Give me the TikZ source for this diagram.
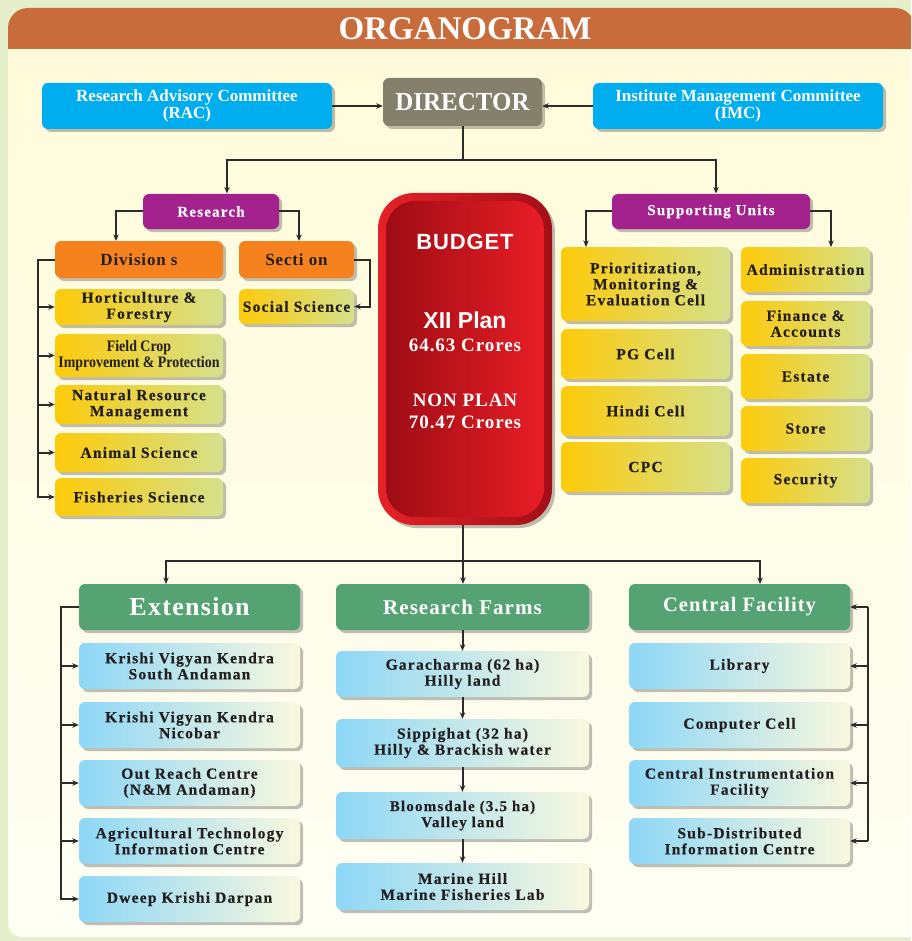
\documentclass[tikz,border=0pt]{standalone}
\usepackage{fontspec}
\setmainfont{Liberation Serif}
\newfontfamily\wsf[LetterSpace=8, BoldFeatures={FakeBold=0.4}]{Liberation Serif}
\newfontfamily\msf[LetterSpace=5]{Liberation Serif}
\newfontfamily\csf[FakeStretch=0.87]{Liberation Serif}
\newfontfamily\dsf[FakeStretch=0.96]{Liberation Serif}
\newfontfamily\ssf[LetterSpace=4]{Liberation Sans}
\newfontfamily\psf{Liberation Sans}
\usetikzlibrary{shadows,arrows.meta}
\definecolor{outerbg}{HTML}{E6EFCC}
\definecolor{paneltop}{HTML}{FFFBD9}
\definecolor{panelbot}{HTML}{FEFEF4}
\definecolor{hdr}{HTML}{C96C3B}
\definecolor{cyanbox}{HTML}{00AEEF}
\definecolor{dirgray}{HTML}{85806C}
\definecolor{purp}{HTML}{A3228D}
\definecolor{orng}{HTML}{F5821F}
\definecolor{yelL}{HTML}{FDCB0A}
\definecolor{yelR}{HTML}{D5E08C}
\definecolor{grn}{HTML}{55A273}
\definecolor{bluL}{HTML}{8DD7F7}
\definecolor{bluR}{HTML}{F9F8DE}
\definecolor{redA}{HTML}{E62128}
\definecolor{redB}{HTML}{A20F17}
\definecolor{redC}{HTML}{9E0C14}
\definecolor{redD}{HTML}{E81E26}
\definecolor{ink}{HTML}{231F20}
\definecolor{linec}{HTML}{2B2B2B}
\tikzset{
  shad/.style={drop shadow={shadow xshift=3pt, shadow yshift=-3pt, opacity=0.25, fill=black}},
  basebox/.style={shad, rounded corners=6pt, inner sep=0pt, align=center},
  topbox/.style={basebox, fill=cyanbox, text=white, minimum width=290pt, minimum height=46pt,
     font=\fontsize{17}{17}\selectfont\bfseries},
  dirbox/.style={basebox, fill=dirgray, text=white, minimum width=159pt, minimum height=48pt,
     font=\fontsize{26}{26}\selectfont\dsf\bfseries},
  purpbox/.style={basebox, fill=purp, text=white, minimum height=35pt,
     font=\fontsize{15}{15}\selectfont\wsf\bfseries},
  orbox/.style={basebox, fill=orng, text=ink, minimum height=37pt,
     font=\fontsize{17}{17}\selectfont\msf\bfseries},
  yelbox/.style={basebox, left color=yelL, right color=yelR, text=ink,
     font=\fontsize{15.5}{16}\selectfont\wsf\bfseries},
  grnbox/.style={basebox, fill=grn, text=white, minimum height=46pt},
  blubox/.style={basebox, left color=bluL, right color=bluR, text=ink,
     font=\fontsize{15.5}{16}\selectfont\wsf\bfseries},
  conn/.style={draw=linec, line width=2pt},
  arr/.style={conn, -{Stealth[length=6.5pt,width=5.5pt]}},
  btext/.style={text=white, inner sep=0pt}
}
\begin{document}
\begin{tikzpicture}[x=1pt,y=-1pt]
\useasboundingbox (0,0) rectangle (911,941);
\clip (0,0) rectangle (911,941);
% background
\fill[outerbg] (0,0) rectangle (911,941);
\shade[top color=paneltop, bottom color=panelbot, rounded corners=14pt] (8,30) rectangle (960,937);
\fill[hdr] (8,49) [rounded corners=20pt] -- (8,8) -- (915,8) [sharp corners] -- (915,49) -- cycle;
\node[text=white, font=\fontsize{33}{33}\selectfont\bfseries, inner sep=0pt] (title) at (465,29) {ORGANOGRAM};

% top row
\node[topbox] (rac) at (187,106) {Research Advisory Committee\\(RAC)};
\node[dirbox] (dir) at (462.5,102) {DIRECTOR};
\node[topbox] (imc) at (738,106) {Institute Management Committee\\(IMC)};
\draw[arr] (rac.east) -- (dir.west |- rac.east);
\draw[arr] (imc.west) -- (dir.east |- imc.west);

% research / supporting
\node[purpbox, minimum width=136pt] (res) at (211,211.5) {Research};
\node[purpbox, minimum width=198pt] (sup) at (711,211.5) {Supporting Units};
\coordinate (dj) at (462.5,160);
\draw[conn] (dir.south) -- (dj);
\draw[arr] (dj) -| (227,193.5);
\draw[arr] (dj) -| (716,193.5);

% research subtree
\node[orbox, minimum width=168pt] (div) at (139,259.5) {Division s};
\node[orbox, minimum width=115pt] (sec) at (296.5,259.5) {Secti on};
\node[yelbox, minimum width=115pt, minimum height=35pt] (soc) at (296.5,306.5) {Social Science};
\node[yelbox, minimum width=168pt, minimum height=36pt] (hort) at (139,307) {Horticulture \&\\Forestry};
\node[yelbox, minimum width=168pt, minimum height=43pt, font=\fontsize{16}{16}\selectfont\csf\bfseries] (field) at (139,355.5) {Field Crop\\Improvement \& Protection};
\node[yelbox, minimum width=168pt, minimum height=39pt] (nrm) at (139,404.5) {Natural Resource\\Management};
\node[yelbox, minimum width=168pt, minimum height=39pt] (anim) at (139,452.5) {Animal Science};
\node[yelbox, minimum width=168pt, minimum height=38pt] (fish) at (139,497) {Fisheries Science};

\draw[arr] (res.west) -| (116,241);
\draw[arr] (res.east) -| (299,241);
\coordinate (secr) at (370,259.5);
\draw[arr] (sec.east) -- (secr) |- (soc.east);
\coordinate (divl) at (38,259.5);
\draw[arr] (div.west) -- (divl) |- (fish.west);
\foreach \n in {hort,field,nrm,anim}{\draw[arr] (divl |- \n.west) -- (\n.west);}

% budget
\node[shad, rounded corners=36pt, left color=redA, right color=redB, minimum width=174pt, minimum height=332pt, inner sep=0pt] (budget) at (465,359) {};
\node[rounded corners=29pt, left color=redC, right color=redD, minimum width=158pt, minimum height=316pt, inner sep=0pt] (budgetin) at (budget.center) {};
\node[btext, font=\fontsize{22}{22}\selectfont\ssf\bfseries] (bt1) at (465,242) {BUDGET};
\node[btext, font=\fontsize{23}{23}\selectfont\psf\bfseries] (bt2) at (465,320) {XII Plan};
\node[btext, font=\fontsize{19}{19}\selectfont\msf\bfseries] (bt3) at (465,345) {64.63 Crores};
\node[btext, font=\fontsize{19}{19}\selectfont\msf\bfseries] (bt4) at (465,400) {NON PLAN};
\node[btext, font=\fontsize{19}{19}\selectfont\msf\bfseries] (bt5) at (465,422) {70.47 Crores};

% supporting units subtree
\node[yelbox, minimum width=169pt, minimum height=74pt] (pmec) at (645.5,284) {Prioritization,\\Monitoring \&\\Evaluation Cell};
\node[yelbox, minimum width=169pt, minimum height=50pt] (pg) at (645.5,354) {PG Cell};
\node[yelbox, minimum width=169pt, minimum height=50pt] (hindi) at (645.5,411) {Hindi Cell};
\node[yelbox, minimum width=169pt, minimum height=50pt] (cpc) at (645.5,467) {CPC};
\node[yelbox, minimum width=129pt, minimum height=45pt] (adm) at (805.5,269.5) {Administration};
\node[yelbox, minimum width=129pt, minimum height=45pt] (fin) at (805.5,323.5) {Finance \&\\Accounts};
\node[yelbox, minimum width=129pt, minimum height=45pt] (est) at (805.5,376.5) {Estate};
\node[yelbox, minimum width=129pt, minimum height=45pt] (sto) at (805.5,428.5) {Store};
\node[yelbox, minimum width=129pt, minimum height=45pt] (secu) at (805.5,480.5) {Security};
\draw[arr] (sup.west) -| (586,247);
\draw[arr] (sup.east) -| (831,247);

% bottom level
\node[grnbox, minimum width=221pt, font=\fontsize{26}{26}\selectfont\msf\bfseries] (ext) at (189.5,607) {Extension};
\node[grnbox, minimum width=253pt, font=\fontsize{21}{21}\selectfont\msf\bfseries] (farms) at (462.5,607) {Research Farms};
\node[grnbox, minimum width=221pt, font=\fontsize{20.5}{20.5}\selectfont\msf\bfseries] (cf) at (739.5,607) {Central Facility};
\coordinate (bj) at (463,561);
\draw[conn] (bj |- budget.south) -- (bj);
\draw[arr] (bj) -| (166,584);
\draw[arr] (bj) -- (bj |- farms.north);
\draw[arr] (bj) -| (760,584);

% extension
\node[blubox, minimum width=221pt, minimum height=46pt] (kvk1) at (189.5,666) {Krishi Vigyan Kendra\\South Andaman};
\node[blubox, minimum width=221pt, minimum height=46pt] (kvk2) at (189.5,725) {Krishi Vigyan Kendra\\Nicobar};
\node[blubox, minimum width=221pt, minimum height=46pt] (orc) at (189.5,783) {Out Reach Centre\\(N\&M Andaman)};
\node[blubox, minimum width=221pt, minimum height=46pt] (atic) at (189.5,841) {Agricultural Technology\\Information Centre};
\node[blubox, minimum width=221pt, minimum height=46pt] (dkd) at (189.5,899) {Dweep Krishi Darpan};
\coordinate (extl) at (61,607);
\draw[arr] (ext.west) -- (extl) |- (dkd.west);
\foreach \n in {kvk1,kvk2,orc,atic}{\draw[arr] (extl |- \n.west) -- (\n.west);}

% research farms
\node[blubox, minimum width=253pt, minimum height=46pt] (gar) at (462.5,674) {Garacharma (62 ha)\\Hilly land};
\node[blubox, minimum width=253pt, minimum height=48pt] (sip) at (462.5,743) {Sippighat (32 ha)\\Hilly \& Brackish water};
\node[blubox, minimum width=253pt, minimum height=47pt, font=\fontsize{15}{16}\selectfont\wsf\bfseries] (blo) at (462.5,815.5) {Bloomsdale (3.5 ha)\\Valley land};
\node[blubox, minimum width=253pt, minimum height=47pt] (mar) at (462.5,886.5) {Marine Hill\\Marine Fisheries Lab};
\draw[arr] (farms.south) -- (gar.north);
\draw[arr] (gar.south) -- (sip.north);
\draw[arr] (sip.south) -- (blo.north);
\draw[arr] (blo.south) -- (mar.north);

% central facility
\node[blubox, minimum width=221pt, minimum height=46pt] (lib) at (739.5,666) {Library};
\node[blubox, minimum width=221pt, minimum height=46pt] (comp) at (739.5,725) {Computer Cell};
\node[blubox, minimum width=221pt, minimum height=46pt] (cif) at (739.5,783) {Central Instrumentation\\Facility};
\node[blubox, minimum width=221pt, minimum height=46pt] (sdic) at (739.5,841) {Sub-Distributed\\Information Centre};
\coordinate (cfr) at (868,607);
\draw[conn] (cfr) -- (cfr |- sdic.east);
\foreach \n in {cf,lib,comp,cif,sdic}{\draw[arr] (cfr |- \n.east) -- (\n.east);}
\end{tikzpicture}
\end{document}
